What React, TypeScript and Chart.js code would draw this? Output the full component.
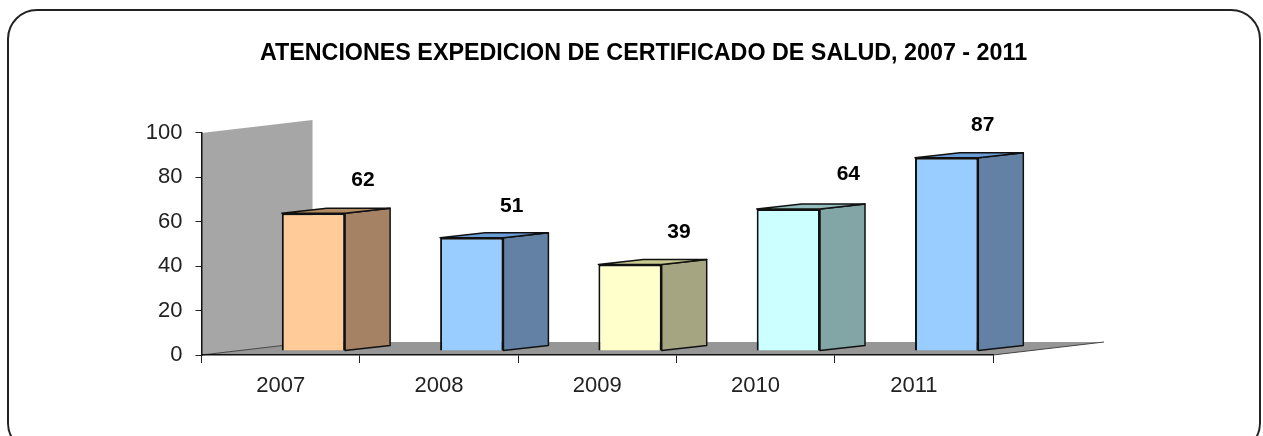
import React, { useEffect, useRef } from "react";
import { Chart, registerables } from "chart.js";

Chart.register(...registerables);

const titleText = "ATENCIONES EXPEDICION DE CERTIFICADO DE SALUD, 2007 - 2011";
const years = ["2007", "2008", "2009", "2010", "2011"];
const attentions = [62, 51, 39, 64, 87];
const yTicks = [0, 20, 40, 60, 80, 100];

const frontColors = ["#FFCC99", "#99CCFF", "#FFFFCC", "#CCFFFF", "#99CCFF"];
const sideColors = ["#A58263", "#6380A5", "#A5A582", "#82A5A5", "#6380A5"];
const topColors = ["#B08A62", "#6A9CD6", "#C9C98F", "#93BDBD", "#6A9CD6"];

// manual nudges of the value labels, as in the original slide
const labelNudgeX = [49.5, 40, 49, 60, 36];
const labelNudgeY = [34, 33, 33, 36, 34];

const BAR_SHIFT_X = 32.8;
const BAR_SHIFT_Y = -4;
const BAR_DEPTH_X = 45;
const BAR_DEPTH_Y = 5;
const FLOOR_DEPTH_X = 111;
const FLOOR_DEPTH_Y = 13;

const scene3d = {
  id: "scene3d",
  beforeDraw(chart: any) {
    const { ctx, chartArea: a } = chart;
    ctx.save();
    ctx.fillStyle = "#A6A6A6";
    ctx.beginPath();
    ctx.moveTo(a.left, a.bottom);
    ctx.lineTo(a.left, a.top);
    ctx.lineTo(a.left + FLOOR_DEPTH_X, a.top - FLOOR_DEPTH_Y);
    ctx.lineTo(a.left + FLOOR_DEPTH_X, a.bottom - FLOOR_DEPTH_Y);
    ctx.closePath();
    ctx.fill();
    ctx.fillStyle = "#969696";
    ctx.beginPath();
    ctx.moveTo(a.left, a.bottom);
    ctx.lineTo(a.left + FLOOR_DEPTH_X, a.bottom - FLOOR_DEPTH_Y);
    ctx.lineTo(a.right + FLOOR_DEPTH_X, a.bottom - FLOOR_DEPTH_Y);
    ctx.lineTo(a.right, a.bottom);
    ctx.closePath();
    ctx.fill();
    ctx.strokeStyle = "#444444";
    ctx.lineWidth = 1;
    ctx.beginPath();
    ctx.moveTo(a.left, a.bottom);
    ctx.lineTo(a.left + FLOOR_DEPTH_X, a.bottom - FLOOR_DEPTH_Y);
    ctx.moveTo(a.right, a.bottom);
    ctx.lineTo(a.right + FLOOR_DEPTH_X, a.bottom - FLOOR_DEPTH_Y);
    ctx.stroke();
    ctx.restore();
  },
  beforeDatasetDraw(chart: any, args: any) {
    const { ctx } = chart;
    ctx.save();
    ctx.translate(BAR_SHIFT_X, BAR_SHIFT_Y);
    ctx.lineWidth = 1.5;
    ctx.strokeStyle = "#111111";
    ctx.lineJoin = "round";
    args.meta.data.forEach((bar: any, i: number) => {
      const l = bar.x - bar.width / 2;
      const r = bar.x + bar.width / 2;
      const t = bar.y;
      const b = bar.base;
      ctx.fillStyle = sideColors[i];
      ctx.beginPath();
      ctx.moveTo(r, t);
      ctx.lineTo(r + BAR_DEPTH_X, t - BAR_DEPTH_Y);
      ctx.lineTo(r + BAR_DEPTH_X, b - BAR_DEPTH_Y);
      ctx.lineTo(r, b);
      ctx.closePath();
      ctx.fill();
      ctx.stroke();
      ctx.fillStyle = topColors[i];
      ctx.beginPath();
      ctx.moveTo(l, t);
      ctx.lineTo(l + BAR_DEPTH_X, t - BAR_DEPTH_Y);
      ctx.lineTo(r + BAR_DEPTH_X, t - BAR_DEPTH_Y);
      ctx.lineTo(r, t);
      ctx.closePath();
      ctx.fill();
      ctx.stroke();
    });
  },
  afterDatasetDraw(chart: any) {
    chart.ctx.restore();
  },
  afterDatasetsDraw(chart: any) {
    const { ctx } = chart;
    const meta = chart.getDatasetMeta(0);
    ctx.save();
    ctx.font = 'bold 21px "Liberation Sans"';
    ctx.fillStyle = "#000000";
    ctx.textAlign = "center";
    ctx.textBaseline = "middle";
    meta.data.forEach((bar: any, i: number) => {
      ctx.fillText(
        String(attentions[i]),
        bar.x + BAR_SHIFT_X + labelNudgeX[i],
        bar.y + BAR_SHIFT_Y - labelNudgeY[i] + 1
      );
    });
    ctx.restore();
  },
};

export default function App() {
  const ref = useRef<HTMLCanvasElement>(null);

  useEffect(() => {
    const chart = new Chart(ref.current as HTMLCanvasElement, {
      type: "bar",
      data: {
        labels: years,
        datasets: [
          {
            label: "Atenciones",
            data: attentions,
            backgroundColor: frontColors,
            borderColor: "#111111",
            borderWidth: 2,
            categoryPercentage: 0.4,
            barPercentage: 1,
            clip: false as any,
          },
        ],
      },
      options: {
        responsive: false,
        animation: false,
        devicePixelRatio: 1,
        layout: { padding: { left: 0, right: 0, top: 0, bottom: 16 } },
        plugins: {
          legend: { display: false },
          tooltip: { enabled: false },
          title: {
            display: true,
            text: titleText,
            color: "#000000",
            font: { family: '"Liberation Sans"', size: 23.3, weight: "bold" },
            padding: { top: 40, bottom: 65 },
          },
        },
        scales: {
          x: {
            type: "category",
            afterFit(scale: any) {
              scale.height = 65;
            },
            grid: {
              drawOnChartArea: false,
              offset: true,
              color: "#222222",
              tickLength: 8,
              tickWidth: 1,
            },
            border: { color: "#111111", width: 1.5 },
            ticks: {
              color: "#222222",
              padding: 10,
              maxRotation: 0,
              font: { family: '"Liberation Sans"', size: 22 },
            },
          },
          y: {
            min: 0,
            max: 100,
            afterFit(scale: any) {
              scale.width = 201.5;
            },
            afterBuildTicks(scale: any) {
              scale.ticks = yTicks.map((value) => ({ value }));
            },
            grid: {
              drawOnChartArea: false,
              color: "#222222",
              tickLength: 6,
              tickWidth: 1,
            },
            border: { color: "#111111", width: 1.5 },
            ticks: {
              color: "#222222",
              padding: 13,
              font: { family: '"Liberation Sans"', size: 22 },
            },
          },
          // empty right-hand margin that keeps the plot where it belongs
          // while the title stays centred on the whole canvas
          margin: {
            type: "linear",
            position: "right",
            afterFit(scale: any) {
              scale.width = 294;
            },
            grid: { display: false },
            border: { display: false },
            ticks: { display: false },
          },
        },
      },
      plugins: [scene3d as any],
    });
    return () => chart.destroy();
  }, []);

  return (
    <div
      style={{
        position: "fixed",
        left: 0,
        top: 0,
        width: 1263,
        height: 436,
        overflow: "hidden",
        background: "#ffffff",
      }}
    >
      <div
        style={{
          position: "absolute",
          left: 7,
          top: 9,
          width: 1250,
          height: 440,
          boxSizing: "content-box",
          border: "2px solid #222222",
          borderRadius: 30,
        }}
      />
      <canvas
        ref={ref}
        width={1287}
        height={436}
        style={{ position: "absolute", left: 0, top: 0, width: 1287, height: 436, display: "block" }}
      />
    </div>
  );
}
